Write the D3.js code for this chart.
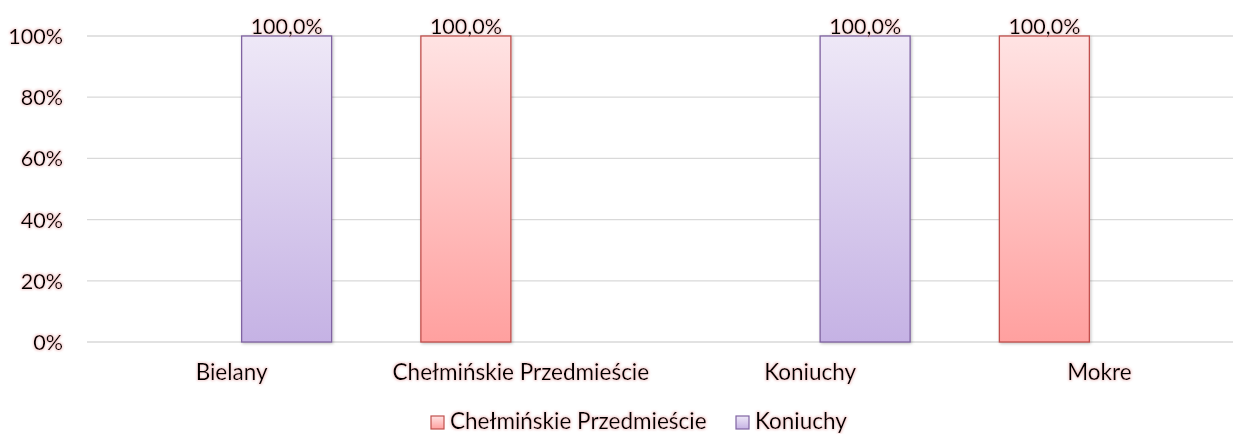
<!DOCTYPE html>
<html>
<head>
<meta charset="utf-8">
<script src="https://cdn.jsdelivr.net/npm/d3@7/dist/d3.min.js"></script>
<style>
  body { margin: 0; background: #fff; }
  text { font-family: Lato, "Open Sans", sans-serif; fill: #000; }
</style>
</head>
<body>
<script>
// categories on the x axis
var categories = ["Bielany", "Chełmińskie Przedmieście", "Koniuchy", "Mokre"];
// series (legend order)
var seriesNames = ["Chełmińskie Przedmieście", "Koniuchy"];
// values in % per category, null = no bar
var chelminskieValues = [null, 100, null, 100];
var koniuchyValues = [100, null, 100, null];
var yTicks = [0, 20, 40, 60, 80, 100];

var width = 1233, height = 434;
var plotLeft = 87, plotRight = 1244, plotTop = 36, plotBottom = 342;

var colors = {
  "Chełmińskie Przedmieście": { top: "#ffe3e3", bottom: "#ffa09f", stroke: "#c0504d" },
  "Koniuchy": { top: "#eee8f7", bottom: "#c5b2e4", stroke: "#8064a2" }
};

var rows = categories.map(function (c, i) {
  return { cat: c, values: [
    { s: seriesNames[0], v: chelminskieValues[i] },
    { s: seriesNames[1], v: koniuchyValues[i] }
  ]};
});

var svg = d3.select("body").append("svg")
  .attr("width", width).attr("height", height);

var defs = svg.append("defs");
seriesNames.forEach(function (s, i) {
  var g = defs.append("linearGradient").attr("id", "grad" + i)
    .attr("x1", 0).attr("y1", 0).attr("x2", 0).attr("y2", 1);
  g.append("stop").attr("offset", "0%").attr("stop-color", colors[s].top);
  g.append("stop").attr("offset", "100%").attr("stop-color", colors[s].bottom);
});

// pink glow behind text
var glow = defs.append("filter").attr("id", "glow")
  .attr("x", "-20%").attr("y", "-40%").attr("width", "140%").attr("height", "180%");
glow.append("feMorphology").attr("in", "SourceAlpha").attr("operator", "dilate").attr("radius", 1).attr("result", "d");
glow.append("feGaussianBlur").attr("in", "d").attr("stdDeviation", 1.2).attr("result", "b");
glow.append("feFlood").attr("flood-color", "#e9a5a5").attr("flood-opacity", 0.45);
glow.append("feComposite").attr("in2", "b").attr("operator", "in").attr("result", "g");
var gm = glow.append("feMerge");
gm.append("feMergeNode").attr("in", "g");
gm.append("feMergeNode").attr("in", "SourceGraphic");

// soft shadow for bars
var shadow = defs.append("filter").attr("id", "shadow")
  .attr("x", "-10%").attr("y", "-10%").attr("width", "130%").attr("height", "130%");
shadow.append("feDropShadow").attr("dx", 1).attr("dy", 1).attr("stdDeviation", 1.5)
  .attr("flood-color", "#000").attr("flood-opacity", 0.25);

var x0 = d3.scaleBand().domain(categories).range([plotLeft, plotRight]);
var bw = x0.bandwidth();
var x1 = d3.scaleBand().domain(seriesNames).range([0, bw])
  .paddingInner(20 / 110).paddingOuter((bw / 110 - 2 + 20 / 110) / 2);
var y = d3.scaleLinear().domain([0, 100]).range([plotBottom, plotTop]);

// gridlines
svg.append("g").selectAll("line").data(yTicks).enter().append("line")
  .attr("x1", plotLeft).attr("x2", plotRight)
  .attr("y1", function (d) { return y(d); }).attr("y2", function (d) { return y(d); })
  .attr("stroke", "#d9d9d9").attr("stroke-width", 1.3);

// y axis labels
var yAxis = d3.axisLeft(y).tickValues(yTicks).tickSize(0).tickPadding(0)
  .tickFormat(function (d) { return d + "%"; });
var ya = svg.append("g").attr("transform", "translate(63,0)").call(yAxis);
ya.select(".domain").remove();
ya.selectAll("text").attr("font-size", 21.5).attr("font-family", null)
  .attr("dy", "0.35em").attr("filter", "url(#glow)");

// x axis labels
var xAxis = d3.axisBottom(x0).tickSize(0).tickPadding(0);
var xa = svg.append("g").attr("transform", "translate(0,380)").call(xAxis);
xa.select(".domain").remove();
xa.selectAll("text").attr("font-size", 22.5).attr("font-family", null)
  .attr("y", 0).attr("dy", 0).attr("filter", "url(#glow)");

// bars
var groups = svg.append("g").selectAll("g").data(rows).enter().append("g")
  .attr("transform", function (d) { return "translate(" + x0(d.cat) + ",0)"; });

var present = function (d) { return d.values.filter(function (v) { return v.v != null; }); };

groups.selectAll("rect").data(present).enter().append("rect")
  .attr("x", function (d) { return x1(d.s); })
  .attr("y", function (d) { return y(d.v); })
  .attr("width", x1.bandwidth())
  .attr("height", function (d) { return y(0) - y(d.v); })
  .attr("fill", function (d) { return "url(#grad" + seriesNames.indexOf(d.s) + ")"; })
  .attr("stroke", function (d) { return colors[d.s].stroke; })
  .attr("stroke-width", 1.3)
  .attr("filter", "url(#shadow)");

groups.selectAll("text.lbl").data(present).enter().append("text")
  .attr("class", "lbl")
  .attr("x", function (d) { return x1(d.s) + x1.bandwidth() / 2; })
  .attr("y", function (d) { return y(d.v) - 2; })
  .attr("text-anchor", "middle").attr("font-size", 21.5)
  .attr("filter", "url(#glow)")
  .text(function (d) { return d3.format(".1f")(d.v).replace(".", ",") + "%"; });

// legend
var legendX = [431, 736];
var legend = svg.append("g").selectAll("g").data(seriesNames).enter().append("g")
  .attr("transform", function (d, i) { return "translate(" + legendX[i] + ",416)"; });
legend.append("rect").attr("width", 13).attr("height", 13)
  .attr("fill", function (d, i) { return "url(#grad" + i + ")"; })
  .attr("stroke", function (d) { return colors[d].stroke; }).attr("stroke-width", 1.2);
legend.append("text").attr("x", 19).attr("y", 13).attr("font-size", 22.5)
  .attr("filter", "url(#glow)")
  .text(function (d) { return d; });
</script>
</body>
</html>
